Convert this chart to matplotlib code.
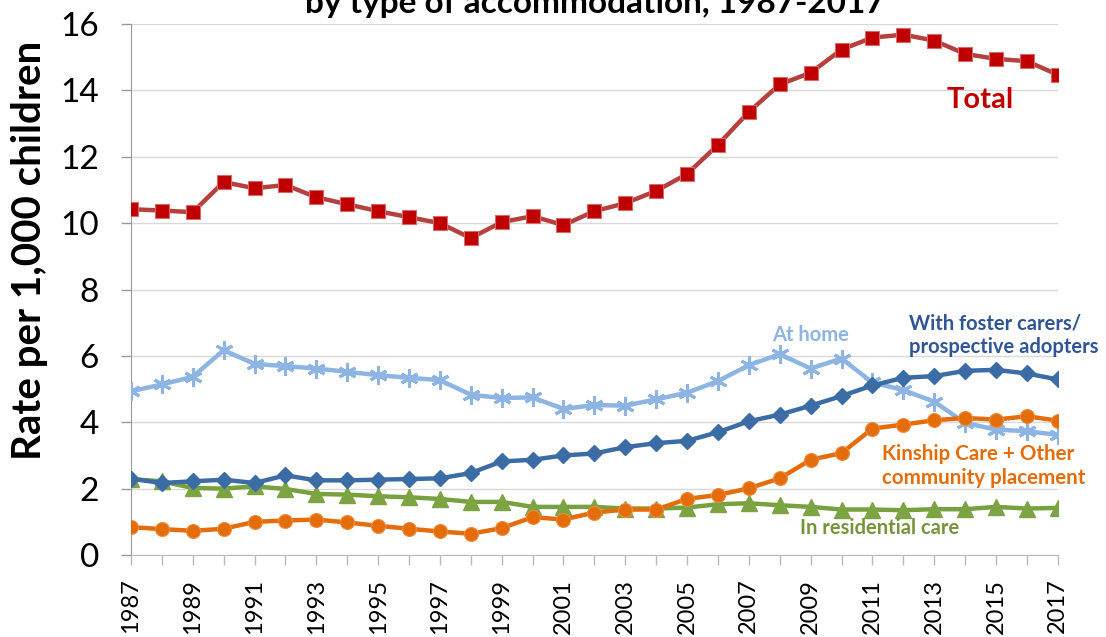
import matplotlib
matplotlib.use("Agg")
import matplotlib.pyplot as plt

plt.rcParams['font.family'] = ['Lato', 'DejaVu Sans']

years = list(range(1987, 2018))

total = [10.42, 10.38, 10.33, 11.24, 11.05, 11.15, 10.78, 10.57, 10.36, 10.18,
         10.0, 9.55, 10.03, 10.21, 9.94, 10.36, 10.6, 10.97, 11.48, 12.36,
         13.35, 14.18, 14.53, 15.23, 15.59, 15.68, 15.5, 15.1, 14.95, 14.88, 14.47]

at_home = [4.93, 5.14, 5.37, 6.17, 5.76, 5.69, 5.62, 5.52, 5.42, 5.34,
           5.27, 4.83, 4.73, 4.75, 4.4, 4.52, 4.5, 4.69, 4.89, 5.24,
           5.72, 6.05, 5.62, 5.92, 5.2, 4.97, 4.62, 3.98, 3.78, 3.73, 3.62]

foster = [2.3, 2.17, 2.22, 2.27, 2.17, 2.4, 2.25, 2.25, 2.27, 2.29,
          2.31, 2.47, 2.82, 2.87, 3.0, 3.06, 3.25, 3.37, 3.44, 3.7,
          4.03, 4.23, 4.5, 4.79, 5.11, 5.34, 5.39, 5.55, 5.58, 5.47, 5.29]

kinship = [0.84, 0.78, 0.73, 0.79, 1.0, 1.04, 1.07, 0.98, 0.88, 0.79,
           0.71, 0.64, 0.81, 1.14, 1.07, 1.28, 1.37, 1.37, 1.69, 1.81,
           2.01, 2.31, 2.87, 3.07, 3.81, 3.93, 4.06, 4.13, 4.08, 4.18, 4.05]

residential = [2.29, 2.22, 2.02, 2.0, 2.07, 1.99, 1.84, 1.82, 1.77, 1.74,
               1.69, 1.6, 1.6, 1.45, 1.45, 1.45, 1.4, 1.4, 1.43, 1.53,
               1.56, 1.5, 1.45, 1.37, 1.37, 1.35, 1.38, 1.38, 1.45, 1.4, 1.42]

fig = plt.figure(figsize=(11.06, 6.37), dpi=100)
ax = fig.add_axes([0.1184, 0.1287, 0.838, 0.8336])

lw = 3.2
ax.plot(years, total, color='#B5403E', lw=lw, marker='s', ms=9.5,
        mfc='#C00000', mec='#D46A6A', mew=0.8, zorder=5)
ax.plot(years, at_home, color='#8DB4E2', lw=lw, marker=(6, 2, 0), ms=13,
        mec='#8DB4E2', mew=2.2, zorder=3)
ax.plot(years, foster, color='#3C6CA6', lw=lw, marker='D', ms=8.5,
        mfc='#3C6CA6', mec='#3C6CA6', zorder=4)
ax.plot(years, kinship, color='#E46C0A', lw=lw, marker='o', ms=10,
        mfc='#E46C0A', mec='#EE8A3C', mew=0.8, zorder=4)
ax.plot(years, residential, color='#77A03E', lw=lw, marker='^', ms=11,
        mfc='#7DA443', mec='#7DA443', zorder=3)

ax.set_xlim(1987, 2017)
ax.set_ylim(0, 16)
ax.set_yticks(range(0, 17, 2))
ax.set_xticks(years)
ax.set_xticklabels([str(y) if (y - 1987) % 2 == 0 else '' for y in years],
                   rotation=90, fontsize=17)
ax.tick_params(axis='y', labelsize=24, length=7, color='#999999', width=1, pad=16)
ax.tick_params(axis='x', length=7, color='#BBBBBB', width=1, pad=10)

ax.grid(axis='y', color='#D9D9D9', lw=1)
ax.set_axisbelow(True)
for side in ['top', 'right']:
    ax.spines[side].set_visible(False)
ax.spines['left'].set_color('#999999')
ax.spines['bottom'].set_color('#BBBBBB')

ax.set_ylabel('Rate per 1,000 children', fontsize=29, fontweight='bold')
ax.yaxis.set_label_coords(-0.09, 0.574)

fig.text(0.538, 1 - 13 / 637, 'by type of accommodation, 1987-2017',
         ha='center', va='baseline', fontsize=24, fontweight='bold')

ax.text(2014.5, 13.72, 'Total', color='#C00000', fontsize=21, fontweight='bold',
        ha='center', va='center')
ax.text(2009.0, 6.63, 'At home', color='#8DB4E2', fontsize=14.5, fontweight='bold',
        ha='center', va='center')
ax.text(2012.2, 6.63, 'With foster carers/\nprospective adopters', color='#2F5597',
        fontsize=14.5, fontweight='bold', ha='left', va='center', linespacing=1.2)
ax.text(2011.3, 2.68, 'Kinship Care + Other\ncommunity placement', color='#E46C0A',
        fontsize=14.8, fontweight='bold', ha='left', va='center', linespacing=1.2)
ax.text(2011.24, 0.81, 'In residential care', color='#77933C', fontsize=14.5,
        fontweight='bold', ha='center', va='center')

fig.savefig('out.png', dpi=100)
